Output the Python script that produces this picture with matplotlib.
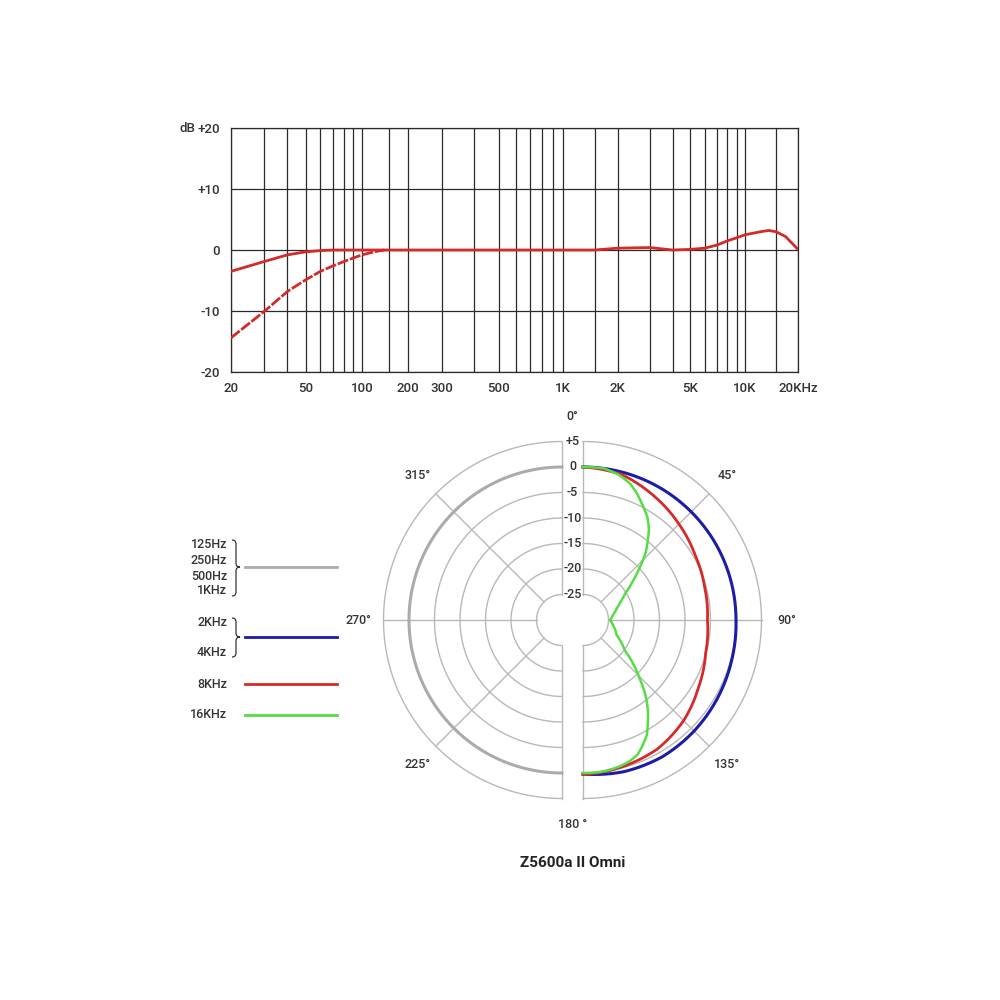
import numpy as np
import matplotlib
matplotlib.use("Agg")
import matplotlib.pyplot as plt
from matplotlib.path import Path
from matplotlib.patches import PathPatch

plt.rcParams['font.family'] = ['Roboto', 'DejaVu Sans']
plt.rcParams['font.weight'] = 'medium'

# ---- frequency response data ----
freq_solid = [20, 30, 40, 50, 60, 70, 100, 200, 500, 1000, 1500, 2000, 3000, 4000,
              5000, 6000, 7000, 8000, 9000, 10000, 12300, 13600, 15000, 17000, 20000]
db_solid = [-3.5, -1.9, -0.8, -0.3, -0.1, 0, 0, 0, 0, 0, 0, 0.3, 0.4, 0.0,
            0.1, 0.3, 0.8, 1.5, 2.0, 2.5, 3.0, 3.2, 3.0, 2.2, 0.1]
freq_cut = [20, 30, 40, 50, 60, 70, 80, 90, 100, 120, 140]
db_cut = [-14.4, -10.1, -6.8, -4.9, -3.5, -2.6, -1.9, -1.3, -0.8, -0.3, 0.0]

freq_ticks = [20, 50, 100, 200, 300, 500, 1000, 2000, 5000, 10000, 20000]
freq_labels = ["20", "50", "100", "200", "300", "500", "1K", "2K", "5K", "10K", "20KHz"]
freq_grid = [30, 40, 60, 70, 80, 90, 150, 400, 600, 700, 800, 900, 1500,
             3000, 4000, 6000, 7000, 8000, 9000, 15000]
db_ticks = [-20, -10, 0, 10, 20]
db_labels = ["-20", "-10", "0", "+10", "+20"]

# ---- polar pattern data (angle in degrees, level in dB) ----
ang_low = [180, 195, 210, 225, 240, 255, 270, 285, 300, 315, 330, 345, 360]
db_low = [0] * 13
ang_2k = [0, 15, 30, 45, 60, 75, 90, 105, 120, 135, 150, 165, 180]
db_2k = [0, 0, 0, 0, 0, 0, 0, 0.2, 0.5, 0.8, 1.0, 0.8, 0.2]
ang_8k = [0, 15, 30, 45, 60, 75, 90, 105, 120, 135, 150, 165, 180]
db_8k = [0, -0.5, -2.0, -3.4, -4.6, -5.3, -5.6, -5.1, -3.8, -2.1, -0.8, -0.2, 0.3]
ang_16k = [0, 8, 14, 19, 23, 27, 32, 36, 39, 43, 47, 52, 58, 64, 71, 80, 90,
           100, 107, 114, 120, 126, 131, 136, 140, 144, 148, 151, 155, 158, 162, 166, 173, 180]
db_16k = [0, 0, -0.7, -1.7, -3.0, -4.5, -6.2, -8.0, -9.8, -12.0, -14.7, -17.6, -20.3, -21.8, -23.0, -24.0, -24.7,
          -24.0, -23.4, -22.8, -21.4, -19.9, -17.0, -14.0, -11.0, -8.4, -6.0, -4.2, -2.6, -1.5, -0.8, -0.4, 0, 0]

legend_labels = [["125Hz", "250Hz", "500Hz", "1KHz"], ["2KHz", "4KHz"], ["8KHz"], ["16KHz"]]
colors = ["#ababab", "#1c1ca6", "#d42a2a", "#55dd44"]

TXT = "#333333"

fig = plt.figure(figsize=(10, 10), dpi=100)

# ---- top: frequency response ----
# the printed axis is only roughly logarithmic, so map it piecewise
anchor_f = np.log10([20, 100, 200, 300, 500, 1000, 10000, 20000])
anchor_x = (np.array([231, 362, 408, 442, 499, 563, 745, 798]) - 231) / 567


def fwd(f):
    return np.interp(np.log10(np.clip(f, 1e-3, None)), anchor_f, anchor_x)


def inv(v):
    return 10 ** np.interp(v, anchor_x, anchor_f)


ax = fig.add_axes([0.231, 0.628, 0.567, 0.244])
ax.set_xscale('function', functions=(fwd, inv))
ax.set_xlim(20, 20000)
ax.set_ylim(-20, 20)
ax.set_xticks(freq_ticks)
ax.set_xticklabels(freq_labels)
ax.set_xticks(freq_grid, minor=True)
ax.set_yticks(db_ticks)
ax.set_yticklabels(db_labels)
ax.grid(True, which='both', color='#2a2a2a', lw=0.9)
ax.tick_params(which='both', length=0, labelsize=9.5, labelcolor=TXT)
ax.tick_params(axis='x', pad=7)
ax.tick_params(axis='y', pad=8)
for s in ax.spines.values():
    s.set_color('#2a2a2a')
    s.set_linewidth(0.9)
ax.plot(freq_solid, db_solid, color='#d42a2a', lw=2.0, solid_capstyle='round', zorder=3)
ax.plot(freq_cut, db_cut, color='#d42a2a', lw=2.0, ls=(0, (4, 0.7)), zorder=3)
fig.text(0.187, 0.872, "dB", ha='center', va='center', fontsize=9.5, color=TXT)

# ---- bottom: polar pattern, two half disks split by a gap ----
px = 5.1           # pixels per dB
gap = 10.5 / px    # half gap between the two halves
half = 225 / px
pax = fig.add_axes([(572.5 - 225) / 1000, 1 - (620 + 225) / 1000, 0.45, 0.45])
pax.set_xlim(-half, half)
pax.set_ylim(-half, half)
pax.set_aspect('equal')
pax.axis('off')

GRID = '#b8b8b8'
t = np.radians(np.linspace(0, 180, 181))
for ring in range(-25, 10, 5):
    r = ring + 30
    pax.plot(gap + r * np.sin(t), r * np.cos(t), color=GRID, lw=1.0)
    pax.plot(-gap - r * np.sin(t), r * np.cos(t), color=GRID, lw=1.0)
    lab = "+%d" % ring if ring > 0 else "%d" % ring
    pax.text(0, r, lab, ha='center', va='center', fontsize=9, color=TXT)
for sx in (gap, -gap):
    pax.plot([sx, sx], [5, 35], color=GRID, lw=1.0)
    pax.plot([sx, sx], [-5, -35], color=GRID, lw=1.0)
    sgn = 1 if sx > 0 else -1
    for a in (45, 90, 135):
        ar = np.radians(a)
        pax.plot([sx + sgn * 5 * np.sin(ar), sx + sgn * 35 * np.sin(ar)],
                 [5 * np.cos(ar), 35 * np.cos(ar)], color=GRID, lw=1.0)

for a, lab in [(0, "0°"), (45, "45°"), (90, "90°"), (135, "135°"), (180, "180 °"),
               (225, "225°"), (270, "270°"), (315, "315°")]:
    ar = np.radians(a)
    sx = 0 if a in (0, 180) else (gap if a < 180 else -gap)
    pax.text(sx + 40 * np.sin(ar), 40 * np.cos(ar), lab, ha='center', va='center',
             fontsize=9, color=TXT)


def pattern(angles, levels, side):
    # straight segments in (angle, level) space, as a polar axes would draw them
    p = Path(np.column_stack([angles, np.array(levels) + 30.0])).interpolated(20)
    a = np.radians(p.vertices[:, 0])
    r = p.vertices[:, 1]
    return side + r * np.sin(a), r * np.cos(a)


x, y = pattern(ang_low, db_low, -gap)
pax.plot(x, y, color=colors[0], lw=2.2)
x, y = pattern(ang_2k, db_2k, gap)
pax.plot(x, y, color=colors[1], lw=2.2)
x, y = pattern(ang_8k, db_8k, gap)
pax.plot(x, y, color=colors[2], lw=2.0)
x, y = pattern(ang_16k, db_16k, gap)
pax.plot(x, y, color=colors[3], lw=1.8)

pax.text(0, -47.6, "Z5600a II Omni", ha='center', va='center',
         fontsize=11, fontweight='bold', color='#222222')

# ---- legend (figure pixel coordinates) ----
lax = fig.add_axes([0, 0, 1, 1])
lax.set_xlim(0, 1000)
lax.set_ylim(1000, 0)
lax.axis('off')
lax.set_zorder(-1)

label_y = [[545, 560, 576, 591], [623, 653], [684], [715]]
line_y = [567, 637, 684, 715]
for labs, ys, ly, c in zip(legend_labels, label_y, line_y, colors):
    for lab, yy in zip(labs, ys):
        lax.text(227, yy, lab, ha='right', va='center', fontsize=9, color=TXT)
    lax.plot([245, 337], [ly, ly], color=c, lw=2.0)


def brace(x0, yt, yb, ym, w=8):
    xm = x0 + w / 2
    d = 4
    verts = [(x0, yt), (xm, yt), (xm, yt + d), (xm, ym - d), (xm, ym), (x0 + w, ym),
             (xm, ym), (xm, ym + d), (xm, yb - d), (xm, yb), (x0, yb)]
    codes = [Path.MOVETO, Path.CURVE3, Path.CURVE3, Path.LINETO, Path.CURVE3, Path.CURVE3,
             Path.CURVE3, Path.CURVE3, Path.LINETO, Path.CURVE3, Path.CURVE3]
    lax.add_patch(PathPatch(Path(verts, codes), fill=False, ec=TXT, lw=0.9))


brace(232, 540, 596, 567)
brace(232, 618, 657, 637)

fig.savefig("out.png", dpi=100, facecolor='white')
